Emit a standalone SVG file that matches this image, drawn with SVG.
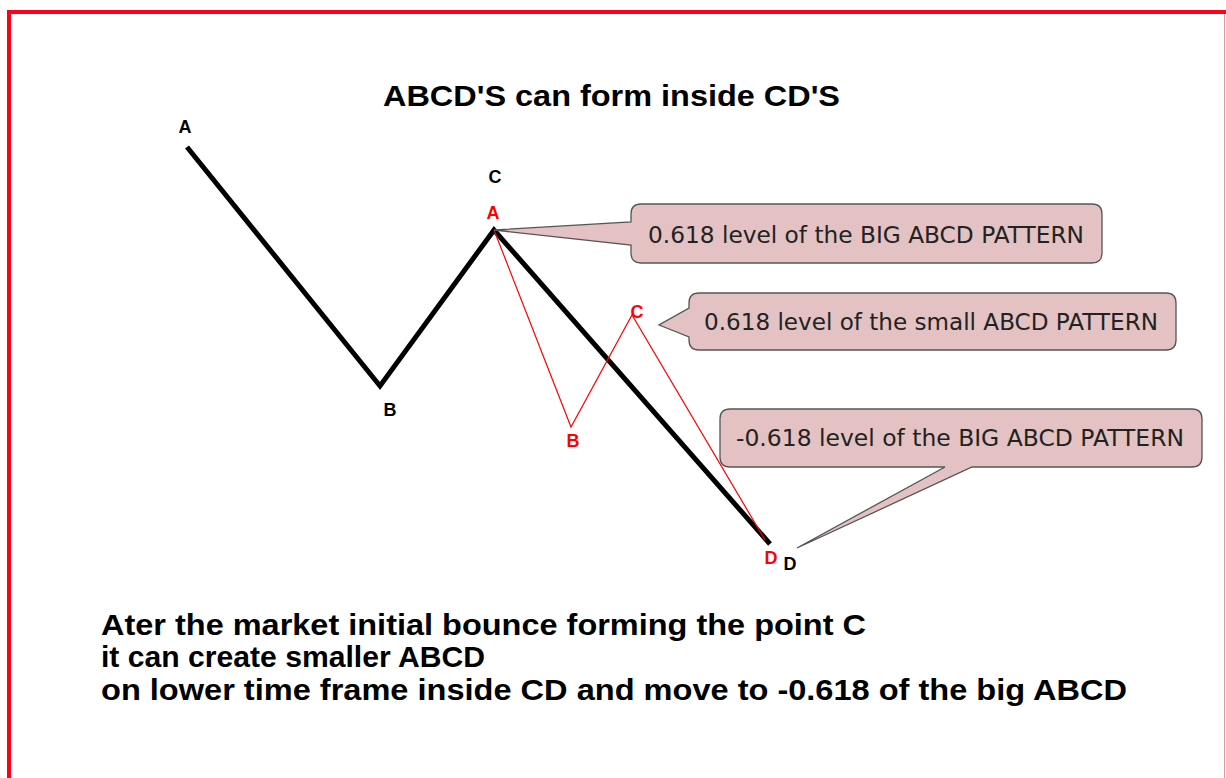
<svg xmlns="http://www.w3.org/2000/svg" width="1226" height="778" viewBox="0 0 1226 778">
<style>
.lbl{font-family:"Liberation Sans",Arial,sans-serif;font-weight:bold;font-size:18px;text-anchor:middle}
.blk{fill:#000}
.red{fill:#ff0000}
.call{fill:#e4c2c4;stroke:#555;stroke-width:1.3}
.ct{font-family:"DejaVu Sans",Verdana,sans-serif;font-size:23.3px;fill:#222}
.big{font-family:"Liberation Sans",Arial,sans-serif;font-weight:bold;font-size:30px;fill:#000}
</style>
<rect width="1226" height="778" fill="#fff"/>
<g id="frame">
<path d="M9,778 V12 H1226" fill="none" stroke="#ff0018" stroke-width="4"/>
<line x1="1224.5" y1="14" x2="1224.5" y2="778" stroke="#d99" stroke-width="1"/>
</g>
<text id="title" x="383" y="106" class="big" font-size="30" textLength="457" lengthAdjust="spacingAndGlyphs">ABCD'S can form inside CD'S</text>
<g id="connectors">
<polyline points="187,147 380,386 494,230 770,544" fill="none" stroke="#000" stroke-width="5" stroke-linejoin="miter"/>
<polyline points="494,230 571,427 632,315 765,540" fill="none" stroke="#ff0000" stroke-width="1.2"/>
</g>
<g id="big-labels">
<text class="lbl blk" x="185" y="133">A</text>
<text class="lbl blk" x="390" y="416">B</text>
<text class="lbl blk" x="495" y="183">C</text>
<text class="lbl blk" x="790" y="570">D</text>
</g>
<g id="small-labels">
<text class="lbl red" x="493" y="219">A</text>
<text class="lbl red" x="573" y="447">B</text>
<text class="lbl red" x="637" y="318">C</text>
<text class="lbl red" x="771" y="564">D</text>
</g>
<g id="callout1">
<path class="call" d="M641,204 H1092 Q1102,204 1102,214 V253 Q1102,263 1092,263 H641 Q631,263 631,253 V245 L494,230 L631,222 V214 Q631,204 641,204 Z"/>
<text class="ct" x="648" y="243" textLength="436" lengthAdjust="spacingAndGlyphs">0.618 level of the BIG ABCD PATTERN</text>
</g>
<g id="callout2">
<path class="call" d="M699,293 H1166 Q1176,293 1176,303 V340 Q1176,350 1166,350 H699 Q689,350 689,340 V337 L659,325 L689,308 V303 Q689,293 699,293 Z"/>
<text class="ct" x="704" y="330" textLength="454" lengthAdjust="spacingAndGlyphs">0.618 level of the small ABCD PATTERN</text>
</g>
<g id="callout3">
<path class="call" d="M730,409 H1192 Q1202,409 1202,419 V457 Q1202,467 1192,467 H972 L797,548 L945,467 H730 Q720,467 720,457 V419 Q720,409 730,409 Z"/>
<text class="ct" x="736" y="446" textLength="448" lengthAdjust="spacingAndGlyphs">-0.618 level of the BIG ABCD PATTERN</text>
</g>
<g id="caption">
<text class="big" x="101" y="635" textLength="765" lengthAdjust="spacingAndGlyphs">Ater the market initial bounce forming the point C</text>
<text class="big" x="101" y="667" textLength="384" lengthAdjust="spacingAndGlyphs">it can create smaller ABCD</text>
<text class="big" x="101" y="700" textLength="1026" lengthAdjust="spacingAndGlyphs">on lower time frame inside CD and move to -0.618 of the big ABCD</text>
</g>
</svg>
